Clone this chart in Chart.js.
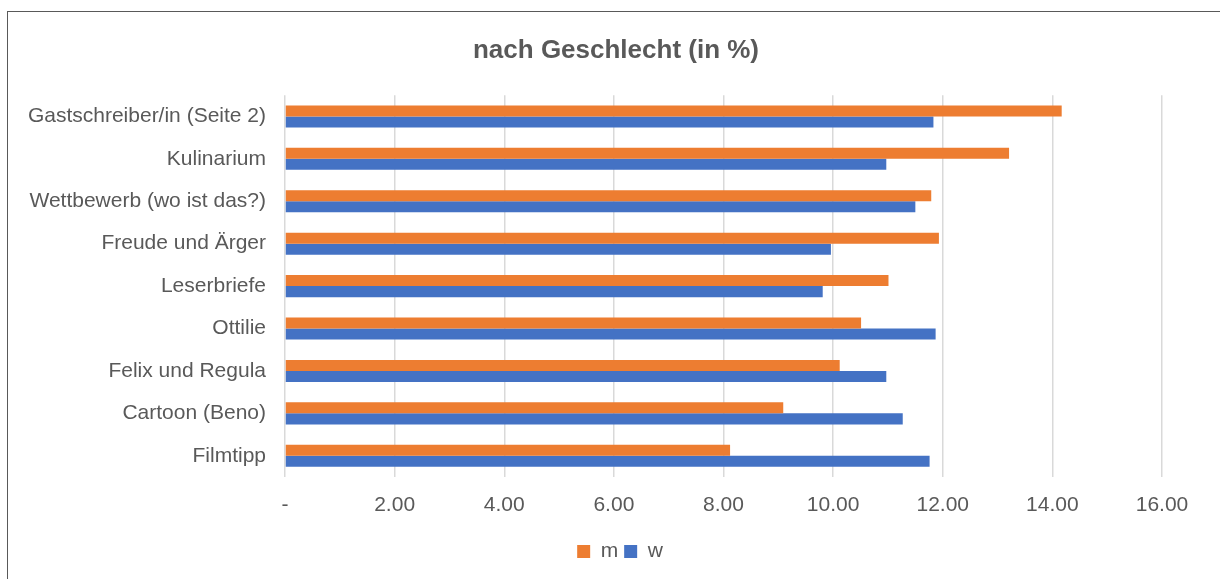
<!DOCTYPE html>
<html>
<head>
<meta charset="utf-8">
<script src="https://cdn.jsdelivr.net/npm/chart.js@4"></script>
<style>
  html, body { margin: 0; padding: 0; background: #fff; }
  #frame { position: absolute; left: 7px; top: 11px; width: 1213px; height: 568px; border-left: 1px solid #595959; border-top: 1px solid #595959; box-sizing: border-box; }
  #wrap { position: absolute; left: 8px; top: 12px; width: 1212px; height: 567px; }
</style>
</head>
<body>
<div id="frame"></div>
<div id="wrap"><canvas id="c"></canvas></div>
<script>
const categories = ["Gastschreiber/in (Seite 2)", "Kulinarium", "Wettbewerb (wo ist das?)", "Freude und Ärger", "Leserbriefe", "Ottilie", "Felix und Regula", "Cartoon (Beno)", "Filmtipp"];
const valuesM = [14.17, 13.21, 11.79, 11.93, 11.01, 10.51, 10.12, 9.09, 8.12];
const valuesW = [11.83, 10.97, 11.50, 9.96, 9.81, 11.87, 10.97, 11.27, 11.76];
const xTicks = [0, 2, 4, 6, 8, 10, 12, 14, 16];

const FONT = "'Liberation Sans', Arial, sans-serif";
const GRAY = "#595959";

// Center title and legend over the whole frame (as in the reference), not only the padded box
const recenter = {
  id: 'recenter',
  afterLayout(chart) {
    const w = 1216;
    if (chart.titleBlock) { chart.titleBlock.left = 0; chart.titleBlock.right = w; }
    if (chart.legend) { chart.legend.left = 0; chart.legend.right = w + 8; }
  }
};

new Chart(document.getElementById('c'), {
  type: 'bar',
  data: {
    labels: categories,
    datasets: [
      { label: 'm', data: valuesM, backgroundColor: '#ED7D31', categoryPercentage: 0.52, barPercentage: 1.0 },
      { label: 'w', data: valuesW, backgroundColor: '#4472C4', categoryPercentage: 0.52, barPercentage: 1.0 }
    ]
  },
  plugins: [recenter],
  options: {
    indexAxis: 'y',
    responsive: true,
    maintainAspectRatio: false,
    animation: false,
    layout: { padding: { left: 0, right: 58, top: 0, bottom: 7 } },
    plugins: {
      title: {
        display: true,
        text: 'nach Geschlecht (in %)',
        color: GRAY,
        font: { family: FONT, size: 26, weight: 'bold' },
        padding: { top: 23, bottom: 29 }
      },
      legend: {
        position: 'bottom',
        labels: {
          color: GRAY,
          font: { family: FONT, size: 21 },
          boxWidth: 13, boxHeight: 13,
          padding: 6
        }
      },
      tooltip: { enabled: false }
    },
    scales: {
      x: {
        min: 0, max: 16,
        afterBuildTicks: (s) => { s.ticks = xTicks.map(v => ({ value: v })); },
        ticks: {
          color: GRAY,
          font: { family: FONT, size: 21 },
          padding: 16,
          callback: (v) => v === 0 ? '-' : Number(v).toFixed(2)
        },
        grid: { color: '#d9d9d9', lineWidth: 1.5, drawTicks: false },
        border: { display: false },
        afterFit: (s) => { s.height = 58; }
      },
      y: {
        ticks: {
          color: GRAY,
          font: { family: FONT, size: 21 },
          padding: 19
        },
        grid: { display: false, drawTicks: false },
        border: { display: false },
        afterFit: (s) => { s.width = 277; }
      }
    }
  }
});
</script>
</body>
</html>
